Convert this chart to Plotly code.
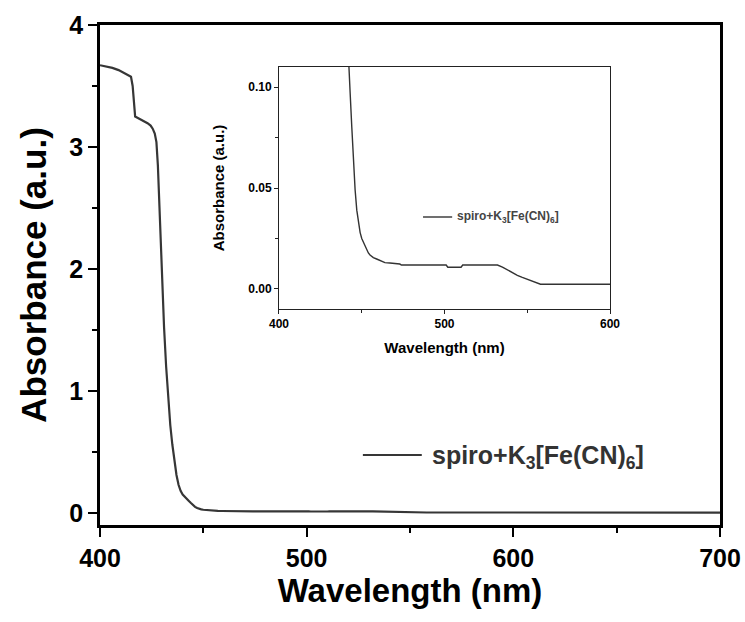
import plotly.graph_objects as go

# UV-vis absorbance spectrum of spiro + K3[Fe(CN)6]
wavelength = [400, 403, 406, 409, 412, 415, 415.8, 416.5, 417, 419, 421, 423, 424.5,
              425.5, 426.5, 427.3, 428, 429, 430, 431, 432, 433, 434, 435, 436, 437,
              438, 439, 440, 441, 442, 443, 444, 445, 446, 447, 448, 449, 450, 451,
              452, 453, 454, 455, 457, 459, 461, 464, 467, 470, 473, 474, 501, 502,
              510, 511, 532, 535, 538, 541, 544, 547, 550, 553, 556, 558, 600, 650, 700]
absorbance = [3.670, 3.660, 3.648, 3.630, 3.605, 3.575, 3.500, 3.300, 3.250, 3.232,
              3.215, 3.195, 3.175, 3.150, 3.110, 3.040, 2.850, 2.400, 1.900, 1.520,
              1.200, 0.930, 0.720, 0.560, 0.420, 0.310, 0.230, 0.180, 0.150, 0.130,
              0.113, 0.097, 0.080, 0.062, 0.049, 0.039, 0.032, 0.028, 0.025, 0.023,
              0.021, 0.019, 0.0178, 0.0168, 0.0155, 0.0148, 0.0140, 0.0130, 0.0128,
              0.0125, 0.0123, 0.0118, 0.0118, 0.0107, 0.0107, 0.0118, 0.0118, 0.0108,
              0.0094, 0.0080, 0.0067, 0.0057, 0.0048, 0.0036, 0.0028, 0.0023, 0.0023,
              0.0020, 0.0020]

series_name = "spiro+K<sub>3</sub>[Fe(CN)<sub>6</sub>]"
main_xticks = [400, 500, 600, 700]
main_yticks = [0, 1, 2, 3, 4]
inset_xticks = [400, 500, 600]
inset_yticks = [0.00, 0.05, 0.10]
inset_ytext = ["0.00", "0.05", "0.10"]

FONT = "Arial, 'Liberation Sans', sans-serif"

fig = go.Figure()
fig.add_trace(go.Scatter(x=wavelength, y=absorbance, mode="lines",
                         line=dict(color="#363636", width=2.2),
                         xaxis="x", yaxis="y", showlegend=False))
fig.add_trace(go.Scatter(x=wavelength, y=absorbance, mode="lines",
                         line=dict(color="#333333", width=1.4),
                         xaxis="x2", yaxis="y2", showlegend=False))

main_axis = dict(showline=True, linecolor="black", linewidth=2.5, mirror=True,
                 ticks="outside", ticklen=9, tickwidth=2, tickcolor="black",
                 showgrid=False, zeroline=False, automargin=False,
                 tickfont=dict(family=FONT, size=25, color="black", weight="bold"))

fig.update_layout(
    width=745, height=622,
    margin=dict(l=100, r=25, t=25, b=97),
    paper_bgcolor="white", plot_bgcolor="white",
    xaxis=dict(**main_axis, range=[400, 700], tickvals=main_xticks,
               minor=dict(tickvals=[450, 550, 650], ticklen=5, tickwidth=2,
                          ticks="outside", tickcolor="black"),
               title=dict(text="Wavelength (nm)", standoff=9,
                          font=dict(family=FONT, size=33, color="black", weight="bold"))),
    yaxis=dict(**main_axis, range=[-0.1, 4], tickvals=main_yticks,
               minor=dict(tickvals=[0.5, 1.5, 2.5, 3.5], ticklen=5, tickwidth=2,
                          ticks="outside", tickcolor="black"),
               title=dict(text="Absorbance (a.u.)", standoff=13,
                          font=dict(family=FONT, size=35, color="black", weight="bold"))),
)

inset_axis = dict(showline=True, linecolor="#222222", linewidth=1, mirror=True,
                  ticks="outside", ticklen=4, tickwidth=1, tickcolor="#222222",
                  showgrid=False, zeroline=False, automargin=False,
                  tickfont=dict(family=FONT, size=12, color="black", weight="bold"))

fig.update_layout(
    xaxis2=dict(**inset_axis, domain=[0.2887, 0.8226], anchor="y2", range=[400, 600],
                tickvals=inset_xticks,
                minor=dict(tickvals=[450, 550], ticklen=3, ticks="outside",
                           tickcolor="#222222"),
                title=dict(text="Wavelength (nm)", standoff=12,
                           font=dict(family=FONT, size=15, color="black", weight="bold"))),
    yaxis2=dict(**inset_axis, domain=[0.432, 0.916], anchor="x2", range=[-0.01, 0.11],
                tickvals=inset_yticks, ticktext=inset_ytext,
                minor=dict(tickvals=[0.025, 0.075], ticklen=3, ticks="outside",
                           tickcolor="#222222"),
                title=dict(text="Absorbance (a.u.)", standoff=19,
                           font=dict(family=FONT, size=15, color="black", weight="bold"))),
)

# Legend keys drawn as a short line plus a label
fig.add_shape(type="line", xref="paper", yref="paper", x0=0.424, x1=0.519, y0=0.14, y1=0.14,
              line=dict(color="#363636", width=2.2))
fig.add_annotation(xref="paper", yref="paper", x=0.532, y=0.137, xanchor="left",
                   yanchor="middle", showarrow=False, text=series_name,
                   font=dict(family=FONT, size=25, color="#333333", weight="bold"))
fig.add_shape(type="line", xref="paper", yref="paper", x0=0.521, x1=0.568, y0=0.616, y1=0.616,
              line=dict(color="#333333", width=1.4))
fig.add_annotation(xref="paper", yref="paper", x=0.573, y=0.616, xanchor="left",
                   yanchor="middle", showarrow=False, text=series_name,
                   font=dict(family=FONT, size=12, color="#444444", weight="bold"))

fig.write_html("out.html")
